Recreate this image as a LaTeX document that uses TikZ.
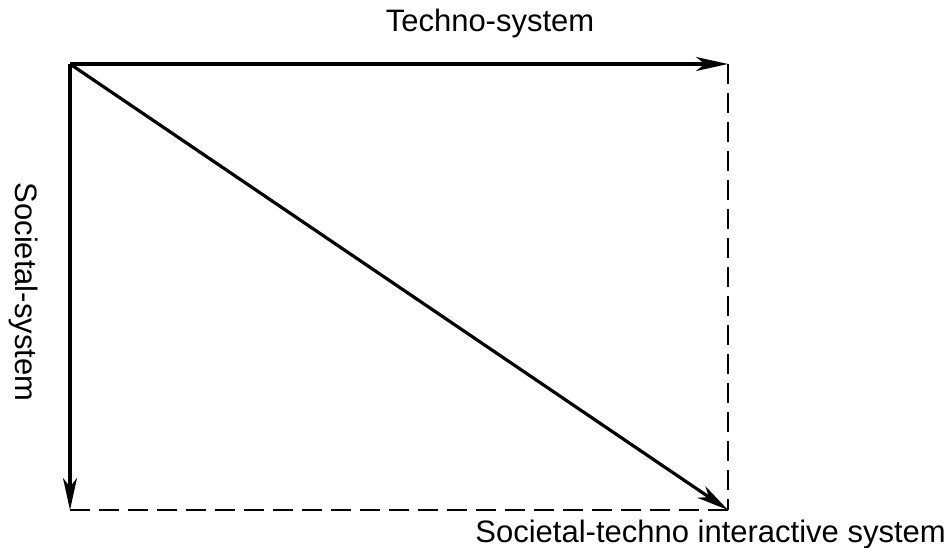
\documentclass[tikz,border=0pt]{standalone}
\usepackage{fontspec}
\setmainfont{Liberation Sans}
\usetikzlibrary{arrows.meta}
\begin{document}
\begin{tikzpicture}[x=1pt,y=1pt,
  axis/.style={line width=3.2pt,-{Stealth[length=32pt,width=14pt,inset=9pt]}},
  dashline/.style={line width=2.4pt,dash pattern=on 20pt off 9pt},
  lbl/.style={font=\fontsize{31}{36}\selectfont,inner sep=0pt}]
\useasboundingbox (0,0) rectangle (951,548);
\coordinate (o) at (70,484);
\coordinate (tr) at (728,484);
\coordinate (bl) at (70,38);
\coordinate (br) at (728,38);
\draw[dashline] (tr) -- (br);
\draw[dashline] (bl) -- (br);
\draw[axis] (o) -- (tr);
\draw[axis] (o) -- (bl);
\draw[axis] (o) -- (br);
\node[lbl,anchor=base] (t) at (490,516) {Techno-system};
\node[lbl,rotate=-90] (s) at (24,256) {Societal-system};
\node[lbl,anchor=base east] (st) at (946,5) {Societal-techno interactive system};
\end{tikzpicture}
\end{document}
